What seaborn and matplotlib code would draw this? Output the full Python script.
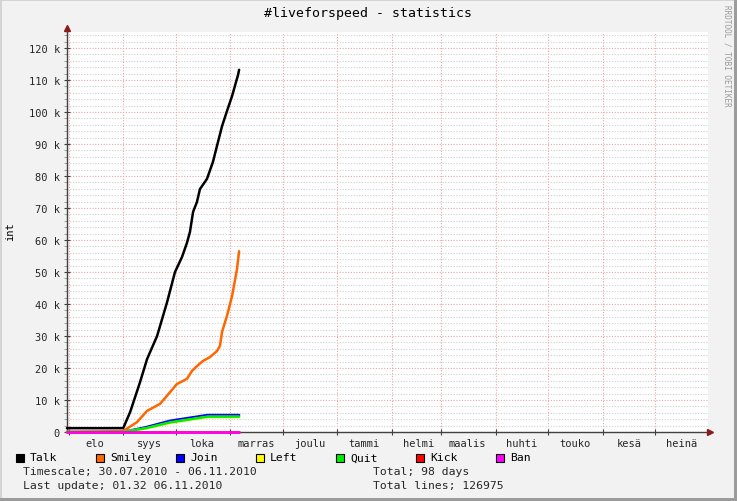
import pandas as pd
import numpy as np
import matplotlib
matplotlib.use("Agg")
import matplotlib.pyplot as plt
import matplotlib.dates as mdates
import matplotlib.ticker as mticker
from matplotlib.patches import Rectangle
import seaborn as sns

# ------------------------------------------------------------------
# data (days after 31.07.2010, values in thousands of lines)
# ------------------------------------------------------------------
talk_days = [0, 32, 36, 41.6, 45.6, 51.3, 57, 61.5, 65.5, 68.3, 70, 71.8, 74,
             75.7, 79.7, 83.1, 85.4, 88.3, 91.1, 94, 97.4, 98]
talk_vals = [1.2, 1.2, 6.3, 15.6, 22.8, 30, 40.6, 50, 54.7, 59.1, 62.5, 68.8,
             71.9, 75.9, 79.1, 84.4, 89.4, 95.6, 100.3, 105, 111.6, 113.2]

smiley_days = [0, 32, 39.9, 45.6, 53, 56.9, 62.6, 68.3, 71.2, 74, 77.4, 81.4,
               85.4, 87.1, 88.3, 91.1, 94, 96.8, 98]
smiley_vals = [0, 0.3, 3.1, 6.6, 8.8, 11.3, 15, 16.6, 19.1, 20.6, 22.2, 23.4,
               25.3, 26.9, 31.3, 36.3, 42.5, 50.9, 56.5]

join_days = [0, 32, 45, 58.7, 80, 98]
join_vals = [0, 0, 1.5, 3.5, 5.3, 5.3]

left_days = [0, 32, 45, 58.7, 80, 98]
left_vals = [0, 0, 1.1, 2.9, 4.7, 4.7]

quit_days = [0, 32, 45, 58.7, 80, 98]
quit_vals = [0, 0, 1.2, 3.0, 4.8, 4.8]

kick_days = [0, 98]
kick_vals = [0, 0]

ban_days = [0, 98]
ban_vals = [0, 0]

series = [
    ("Talk", talk_days, talk_vals, "#000000"),
    ("Smiley", smiley_days, smiley_vals, "#ff6600"),
    ("Join", join_days, join_vals, "#0000ff"),
    ("Left", left_days, left_vals, "#ffff00"),
    ("Quit", quit_days, quit_vals, "#00ee00"),
    ("Kick", kick_days, kick_vals, "#ff0000"),
    ("Ban", ban_days, ban_vals, "#ff00ff"),
]

kuukaudet = ["tammi", "helmi", "maalis", "huhti", "touko", "kesä",
             "heinä", "elo", "syys", "loka", "marras", "joulu"]

start = pd.Timestamp("2010-07-31")
end = pd.Timestamp("2011-07-31")

# ------------------------------------------------------------------
# style
# ------------------------------------------------------------------
sns.set_theme(style="white")
plt.rcParams["font.family"] = ["DejaVu Sans Mono"]

fig = plt.figure(figsize=(7.37, 5.02), dpi=100, facecolor="#f2f2f2")
ax = fig.add_axes([67 / 737, 1 - 433 / 502, 641 / 737, 400 / 502])
ax.set_facecolor("white")

for nama, hari, nilai, warna in series:
    tanggal = start + pd.to_timedelta(hari, unit="D")
    sns.lineplot(x=tanggal, y=np.array(nilai) * 1000, color=warna,
                 linewidth=1.8, ax=ax, clip_on=False, zorder=5)

ax.set_xlim(start, end)
ax.set_ylim(0, 125000)

# grid
ax.yaxis.set_major_locator(mticker.MultipleLocator(10000))
ax.yaxis.set_minor_locator(mticker.MultipleLocator(2000))
ax.yaxis.set_major_formatter(mticker.FuncFormatter(
    lambda v, p: "0" if v == 0 else f"{v / 1000:.0f} k"))
ax.grid(True, which="major", axis="y", color="#e6a8a8", linestyle=(0, (1, 1.5)), linewidth=0.8)
ax.grid(True, which="minor", axis="y", color="#cfcfcf", linestyle=(0, (1, 1.5)), linewidth=0.8)

ax.xaxis.set_major_locator(mdates.MonthLocator())
ax.xaxis.set_major_formatter(mticker.NullFormatter())
ax.xaxis.set_minor_locator(mdates.MonthLocator(bymonthday=16))
ax.xaxis.set_minor_formatter(mticker.FuncFormatter(
    lambda v, p: kuukaudet[mdates.num2date(v).month - 1]))
ax.grid(True, which="major", axis="x", color="#e6a8a8", linestyle=(0, (1, 1.5)), linewidth=0.8)

ax.tick_params(axis="y", which="major", direction="inout", length=4, width=0.8,
               color="#404040", labelsize=7.5, pad=3, left=True)
ax.tick_params(axis="y", which="minor", direction="out", length=2, width=0.5,
               color="#808080", left=True)
ax.tick_params(axis="x", which="major", direction="inout", length=4, width=0.8,
               color="#404040", bottom=True)
ax.tick_params(axis="x", which="minor", length=0, labelsize=7.5, pad=4, bottom=True)

for s in ["top", "right"]:
    ax.spines[s].set_visible(False)
for s in ["left", "bottom"]:
    ax.spines[s].set_color("#404040")
    ax.spines[s].set_linewidth(1.0)
    ax.spines[s].set_zorder(4)

# arrows at the axis ends
ax.plot([1.003], [0], marker=">", markersize=4.5, color="#8b1a1a",
        transform=ax.transAxes, clip_on=False, zorder=6)
ax.plot([0], [1.01], marker="^", markersize=4.5, color="#8b1a1a",
        transform=ax.transAxes, clip_on=False, zorder=6)
ax.plot([0, 0], [1.0, 1.012], color="#404040", lw=1.0, transform=ax.transAxes,
        clip_on=False, zorder=4)

ax.set_xlabel("")
ax.set_ylabel("")
fig.text(10 / 737, 1 - 232 / 502, "int", rotation=90, ha="center", va="center",
         fontsize=7.5, color="black")

# title and watermark
fig.text(368 / 737, 1 - 14 / 502, "#liveforspeed - statistics", ha="center",
         va="center", fontsize=9.5, color="black")
fig.text(727 / 737, 1 - 5 / 502, "RRDTOOL / TOBI OETIKER", rotation=270,
         ha="center", va="top", fontsize=5.5, color="#9a9a9a")

# legend
for i, (nama, hari, nilai, warna) in enumerate(series):
    x0 = 16 + i * 80
    fig.patches.append(Rectangle((x0 / 737, 1 - 463 / 502), 8 / 737, 8 / 502,
                                 transform=fig.transFigure, facecolor=warna,
                                 edgecolor="black", linewidth=0.8))
    fig.text((x0 + 14) / 737, 1 - 458.5 / 502, nama, ha="left", va="center",
             fontsize=8.2, color="black")

fig.text(23 / 737, 1 - 472 / 502, "Timescale; 30.07.2010 - 06.11.2010",
         ha="left", va="center", fontsize=8.2)
fig.text(373 / 737, 1 - 472 / 502, "Total; 98 days",
         ha="left", va="center", fontsize=8.2)
fig.text(23 / 737, 1 - 486 / 502, "Last update; 01.32 06.11.2010",
         ha="left", va="center", fontsize=8.2)
fig.text(373 / 737, 1 - 486 / 502, "Total lines; 126975",
         ha="left", va="center", fontsize=8.2)

# shaded frame
fig.patches.append(Rectangle((0, 1 - 2 / 502), 1, 2 / 502, transform=fig.transFigure,
                             facecolor="#d4d4d4", edgecolor="none"))
fig.patches.append(Rectangle((0, 0), 2 / 737, 1, transform=fig.transFigure,
                             facecolor="#d4d4d4", edgecolor="none"))
fig.patches.append(Rectangle((0, 0), 1, 3 / 502, transform=fig.transFigure,
                             facecolor="#9c9c9c", edgecolor="none"))
fig.patches.append(Rectangle((1 - 3 / 737, 0), 3 / 737, 1, transform=fig.transFigure,
                             facecolor="#9c9c9c", edgecolor="none"))

fig.savefig("out.png", dpi=100, facecolor=fig.get_facecolor())
